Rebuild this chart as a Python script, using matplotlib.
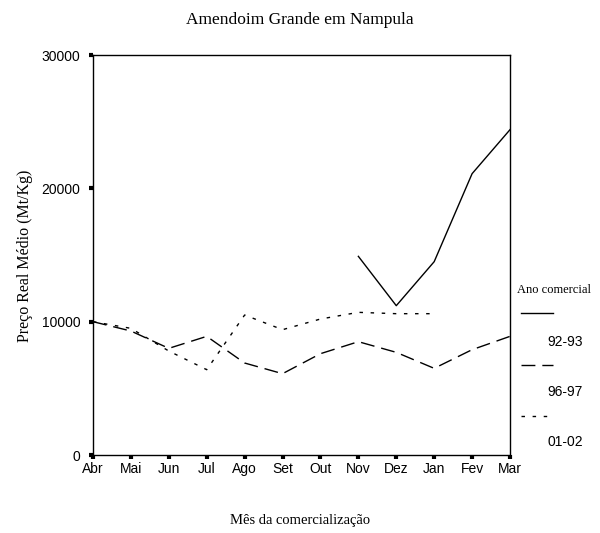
import matplotlib
matplotlib.use("Agg")
import matplotlib.pyplot as plt
from matplotlib.lines import Line2D

months = ["Abr", "Mai", "Jun", "Jul", "Ago", "Set", "Out", "Nov", "Dez", "Jan", "Fev", "Mar"]
yticks = [0, 10000, 20000, 30000]

# 92-93 only has values from Nov onwards
s9293_x = ["Nov", "Dez", "Jan", "Fev", "Mar"]
s9293 = [14900, 11200, 14500, 21100, 24400]

s9697_x = months
s9697 = [10000, 9300, 8000, 8900, 6900, 6100, 7600, 8500, 7700, 6500, 7900, 8900]

s0102_x = ["Abr", "Mai", "Jun", "Jul", "Ago", "Set", "Out", "Nov", "Dez", "Jan"]
s0102 = [10000, 9500, 7800, 6400, 10500, 9400, 10200, 10700, 10600, 10600]

leg_labels = ["92-93", "96-97", "01-02"]

serif = ["Liberation Serif", "DejaVu Serif"]
sans = ["Liberation Sans Narrow", "Liberation Sans", "DejaVu Sans"]

fig = plt.figure(figsize=(6, 5.33), dpi=100)
ax = fig.add_axes([0.155, 0.1463, 0.695, 0.7505])

xi = {m: i for i, m in enumerate(months)}
styles = [None, (10, 5), (2.5, 5.5)]
ax.plot([xi[m] for m in s9293_x], s9293, color="black", lw=1)
ax.plot([xi[m] for m in s9697_x], s9697, color="black", lw=1, dashes=styles[1])
ax.plot([xi[m] for m in s0102_x], s0102, color="black", lw=1, dashes=styles[2])

ax.set_xlim(0, 11)
ax.set_ylim(0, 30000)
ax.set_xticks(range(len(months)))
ax.set_xticklabels(months, family=sans, fontsize=10)
ax.set_yticks(yticks)
ax.set_yticklabels([str(v) for v in yticks], family=sans, fontsize=10)
ax.tick_params(direction="out", length=3, width=3)
ax.tick_params(axis="y", pad=6)
ax.tick_params(axis="x", pad=2)
for sp in ax.spines.values():
    sp.set_linewidth(1)

fig.text(0.5, 0.963, "Amendoim Grande em Nampula", ha="center", va="center",
         family=serif, fontsize=12.5)
fig.text(0.5, 0.023, "Mês da comercialização", ha="center", va="center",
         family=serif, fontsize=10.5)
fig.text(0.042, 0.52, "Preço Real Médio (Mt/Kg)", ha="center", va="center",
         rotation=90, family=serif, fontsize=11.5)

# legend on the right, drawn by hand to match the layout
fig.text(0.861, 0.456, "Ano comercial", ha="left", va="center", family=serif, fontsize=9)
line_y = [0.4128, 0.3152, 0.2195]
text_y = [0.3583, 0.2645, 0.1707]
for lab, st, ly, ty in zip(leg_labels, styles, line_y, text_y):
    ln = Line2D([0.868, 0.922], [ly, ly], transform=fig.transFigure, color="black", lw=1)
    if st:
        ln.set_dashes(st)
    fig.add_artist(ln)
    fig.text(0.912, ty, lab, ha="left", va="center", family=sans, fontsize=10)

fig.savefig("out.png", dpi=100)
